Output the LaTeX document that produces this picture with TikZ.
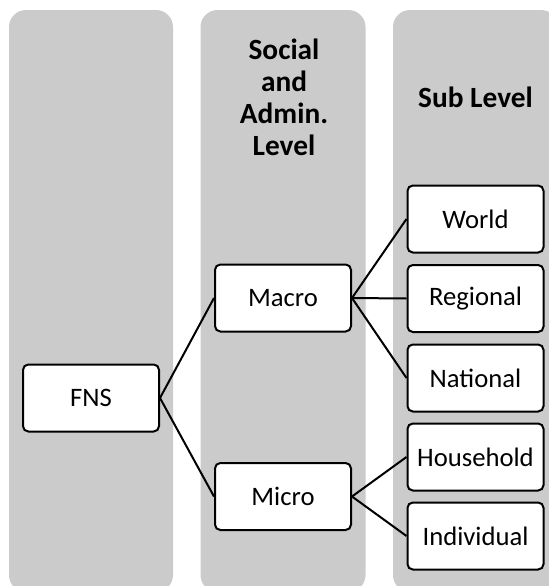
\documentclass[tikz,border=0pt]{standalone}
\usepackage{fontspec}
\setmainfont{Carlito}
\definecolor{colgray}{RGB}{203,203,203}
\begin{document}
\begin{tikzpicture}[x=0.75pt,y=-0.75pt,
  col/.style={fill=colgray, draw=none, rounded corners=12.75pt},
  box/.style={draw=black, line width=1.5pt, fill=white, rounded corners=4pt,
    minimum width=102pt, minimum height=50.25pt, inner sep=0pt,
    font=\fontsize{20}{24}\selectfont},
  head/.style={font=\bfseries\fontsize{22}{24}\selectfont, align=center},
  link/.style={line width=1.5pt}]
\useasboundingbox (0,0) rectangle (549,586);
\begin{scope}
  \clip (0,0) rectangle (549,586);
  \fill[col] (9,10) rectangle (173,592);
  \fill[col] (200.5,10) rectangle (365.5,592);
  \fill[col] (393,10) rectangle (558,592);
\end{scope}
\node[head] (h2) at (284,97) {Social\\and\\Admin.\\Level};
\node[head] (h3) at (475.5,97) {Sub Level};
\node[box] (fns) at (91,398) {FNS};
\node[box] (macro) at (283,298) {Macro};
\node[box] (micro) at (283,496.5) {Micro};
\node[box] (world) at (475.5,219) {World};
\node[box] (regional) at (475.5,298.5) {Regional};
\node[box] (national) at (475.5,378) {National};
\node[box] (household) at (475.5,457) {Household};
\node[box] (individual) at (475.5,536) {Individual};
\draw[link] (fns.east) -- (macro.west);
\draw[link] (fns.east) -- (micro.west);
\draw[link] (macro.east) -- (world.west);
\draw[link] (macro.east) -- (regional.west);
\draw[link] (macro.east) -- (national.west);
\draw[link] (micro.east) -- (household.west);
\draw[link] (micro.east) -- (individual.west);
\end{tikzpicture}
\end{document}
